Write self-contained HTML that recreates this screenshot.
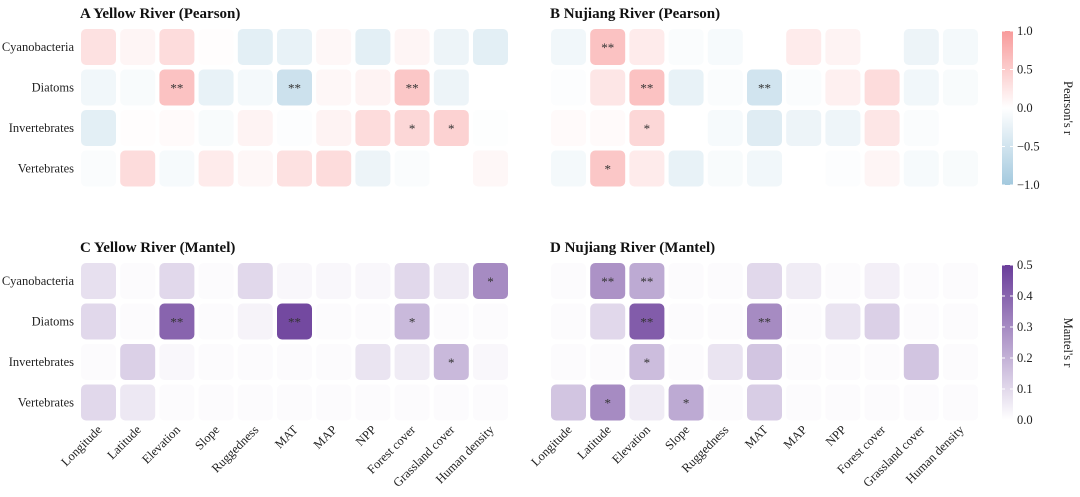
<!DOCTYPE html>
<html><head><meta charset="utf-8"><style>
body{margin:0;background:#fff;}
svg{display:block;font-family:"Liberation Serif",serif;}
</style></head><body>
<svg id="chart" width="1080" height="497" viewBox="0 0 1080 497">
<defs>
<linearGradient id="gp" x1="0" y1="0" x2="0" y2="1">
<stop offset="0" stop-color="#f89a9a"/><stop offset="0.5" stop-color="#ffffff"/><stop offset="1" stop-color="#a3c9de"/>
</linearGradient>
<linearGradient id="gm" x1="0" y1="0" x2="0" y2="1">
<stop offset="0" stop-color="#6a3d9a"/><stop offset="1" stop-color="#ffffff"/>
</linearGradient>
</defs>
</svg>
<script>
const rows=["Cyanobacteria","Diatoms","Invertebrates","Vertebrates"];
const cols=["Longitude","Latitude","Elevation","Slope","Ruggedness","MAT","MAP","NPP","Forest cover","Grassland cover","Human density"];
const valsA=[[0.3,0.1,0.35,0.02,-0.3,-0.25,0.08,-0.3,0.1,-0.2,-0.3],[-0.15,-0.08,0.6,-0.25,-0.12,-0.55,0.08,0.12,0.55,-0.2,0],[-0.3,0.02,0.05,-0.08,0.12,-0.03,0.12,0.35,0.4,0.45,-0.02],[-0.05,0.35,-0.1,0.2,0.08,0.3,0.35,-0.2,-0.05,0,0.08]];
const sigA=[["","","","","","","","","","",""],["","","**","","","**","","","**","",""],["","","","","","","","","*","*",""],["","","","","","","","","","",""]];
const valsB=[[-0.15,0.6,0.2,-0.05,-0.1,0,0.2,0.12,0,-0.2,-0.12],[-0.03,0.25,0.6,-0.25,-0.05,-0.5,-0.05,0.15,0.35,-0.15,-0.08],[0.05,0.05,0.4,0,-0.1,-0.35,-0.2,-0.18,0.25,-0.05,0],[-0.12,0.55,0.2,-0.25,-0.08,-0.15,0,-0.03,0.1,-0.1,-0.08]];
const sigB=[["","**","","","","","","","","",""],["","","**","","","**","","","","",""],["","","*","","","","","","","",""],["","*","","","","","","","","",""]];
const valsC=[[0.08,0.01,0.1,0.01,0.1,0.02,0.02,0.02,0.1,0.05,0.3],[0.1,0.01,0.4,0.01,0.03,0.47,0.01,0.01,0.18,0.01,0.01],[0.01,0.12,0.02,0.01,0.01,0.01,0.01,0.07,0.05,0.18,0.02],[0.1,0.06,0.01,0.01,0.01,0.01,0.01,0.01,0.01,0.01,0.01]];
const sigC=[["","","","","","","","","","","*"],["","","**","","","**","","","*","",""],["","","","","","","","","","*",""],["","","","","","","","","","",""]];
const valsD=[[0.01,0.28,0.22,0.01,0.01,0.1,0.05,0.01,0.04,0.01,0.01],[0.01,0.1,0.42,0.01,0.01,0.3,0.01,0.07,0.12,0.01,0.01],[0.01,0.01,0.17,0.01,0.07,0.15,0.01,0.01,0.01,0.15,0.01],[0.15,0.3,0.05,0.22,0.01,0.13,0.01,0.01,0.01,0.01,0.01]];
const sigD=[["","**","**","","","","","","","",""],["","","**","","","**","","","","",""],["","","*","","","","","","","",""],["","*","","*","","","","","","",""]];
const pearsonTicks=[1.0,0.5,0.0,-0.5,-1.0];
const mantelTicks=[0.5,0.4,0.3,0.2,0.1,0.0];

const svg=document.getElementById('chart');
const NS="http://www.w3.org/2000/svg";
function mk(tag,attrs,parent){const e=document.createElementNS(NS,tag);for(const k in attrs)e.setAttribute(k,attrs[k]);(parent||svg).appendChild(e);return e;}
function lerp(a,b,t){return a.map((v,i)=>Math.round(v+(b[i]-v)*t));}
function pearsonColor(v){const w=[255,255,255];return v>=0?lerp(w,[248,154,154],Math.min(1,v)):lerp(w,[163,201,222],Math.min(1,-v));}
function mantelColor(v){return lerp([255,255,255],[106,61,154],Math.min(1,v/0.5));}
const pitchX=39.2,pitchY=40.5,cw=35,ch=36;
function xPos(x0,j){return x0+j*pitchX;}
function yPos(y0,i){return y0+i*pitchY;}

function panel(name,title,x0,y0,vals,sig,colorFn,showRows,showCols){
  const g=mk('g',{});
  
  
  const t=mk('text',{x:x0-1,y:y0-11,'font-size':15,'font-weight':'bold',fill:'#111'},g);
  t.textContent=title;
  
  
  vals.forEach((r,i)=>r.forEach((v,j)=>{
    const c=colorFn(v);
    const rc=mk('rect',{x:xPos(x0,j),y:yPos(y0,i),width:cw,height:ch,rx:5,fill:`rgb(${c})`},g);
    
    
    if(sig[i][j]){
      const s=mk('text',{x:xPos(x0,j)+cw/2,y:yPos(y0,i)+ch/2+5,'text-anchor':'middle','font-size':13,fill:'#333'},g);
      s.textContent=sig[i][j];
      
      
    }
  }));
  if(showRows) rows.forEach((r,i)=>{
    const t=mk('text',{x:x0-7,y:yPos(y0,i)+ch/2+4,'text-anchor':'end','font-size':12.5,fill:'#222'},g);
    t.textContent=r;
    
    
  });
  if(showCols) cols.forEach((c,j)=>{
    const cx=xPos(x0,j)+cw/2+4, cy=yPos(y0,3)+ch+10;
    const t=mk('text',{x:cx,y:cy,'text-anchor':'end','font-size':12.5,fill:'#222',transform:`rotate(-45 ${cx} ${cy})`},g);
    t.textContent=c;
    
    
  });
}
panel('panel-a','A  Yellow River (Pearson)',81,29,valsA,sigA,pearsonColor,true,false);
panel('panel-b','B  Nujiang River (Pearson)',551,29,valsB,sigB,pearsonColor,false,false);
panel('panel-c','C  Yellow River (Mantel)',81,263,valsC,sigC,mantelColor,true,true);
panel('panel-d','D  Nujiang River (Mantel)',551,263,valsD,sigD,mantelColor,false,true);

function colorbar(name,y0,y1,grad,ticks,tmin,tmax,label){
  const g=mk('g',{});
  
  
  mk('rect',{x:1002,y:y0,width:11,height:y1-y0,fill:`url(#${grad})`},g);
  ticks.forEach(v=>{
    const y=y0+(tmax-v)/(tmax-tmin)*(y1-y0);
    mk('line',{x1:1002,x2:1005,y1:y,y2:y,stroke:'#fff','stroke-width':1},g);
    mk('line',{x1:1010,x2:1013,y1:y,y2:y,stroke:'#fff','stroke-width':1},g);
    const t=mk('text',{x:1017,y:y+4,'font-size':12.5,fill:'#222'},g);
    t.textContent=(v<0?'\u2212':'')+Math.abs(v).toFixed(1);
    
    
  });
  const cy=(y0+y1)/2;
  const t=mk('text',{x:1064,y:cy,'font-size':12.5,fill:'#222','text-anchor':'middle',transform:`rotate(90 1064 ${cy})`},g);
  t.textContent=label;
  
  
}
colorbar('pearson-colorbar',31,185,'gp',pearsonTicks,-1,1,"Pearson's r");
colorbar('mantel-colorbar',265,420,'gm',mantelTicks,0,0.5,"Mantel's r");
</script>
</body></html>
